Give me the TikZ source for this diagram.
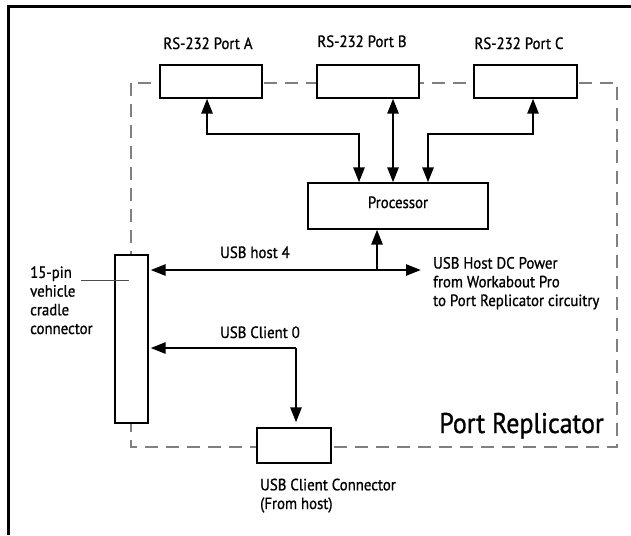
\documentclass[tikz,border=0pt]{standalone}
\usepackage{fontspec}
\setmainfont{PT Sans}[FakeStretch=0.91,FakeBold=1]
\setsansfont{PT Sans}[FakeStretch=0.91,FakeBold=1]
\usetikzlibrary{arrows.meta}
\begin{document}
\begin{tikzpicture}[x=1pt,y=-1pt,
  box/.style={draw=black,line width=1.2pt,fill=white,inner sep=0pt},
  lbl/.style={inner sep=0pt,text=black,anchor=base,font=\fontsize{16.3}{18.7}\selectfont},
  mlbl/.style={lbl,anchor=base west,align=left},
  link/.style={line width=2.6pt,black},
  tip/.style={-{Triangle[length=15pt,width=11pt]}},
  dtip/.style={{Triangle[length=15pt,width=11pt]}-{Triangle[length=15pt,width=11pt]}},
  enclosure/.style={draw=black!50,line width=2pt,dash pattern=on 13pt off 8pt}]
\useasboundingbox (0,0) rectangle (631,535);
% frame
\draw[line width=3pt] (8,535) -- (8,7) -- (631,7);
% port replicator enclosure
\draw[enclosure] (131,83) rectangle (617,447);
% boxes
\node[box,minimum width=102pt,minimum height=33pt] (pa) at (211,81.5) {};
\node[box,minimum width=102pt,minimum height=33pt] (pb) at (368,81.5) {};
\node[box,minimum width=103pt,minimum height=33pt] (pc) at (525.5,81.5) {};
\node[box,minimum width=180pt,minimum height=46pt] (proc) at (398,206) {};
\node[box,minimum width=33pt,minimum height=168pt] (cradle) at (131.5,339) {};
\node[box,minimum width=74pt,minimum height=35pt] (client) at (294,445.5) {};
% labels (multi-line nodes are placed by the baseline of their last line)
\node[lbl] (la) at (208,49) {RS-232 Port A};
\node[lbl] (lb) at (362,47) {RS-232 Port B};
\node[lbl] (lc) at (519,49) {RS-232 Port C};
\node[lbl] (lp) at (398,208) {Processor};
\node[lbl] (lh4) at (255,258) {USB host 4};
\node[lbl] (lc0) at (260,338) {USB Client 0};
\node[mlbl] (ldc) at (433,306) {USB Host DC Power\\from Workabout Pro\\to Port Replicator circuitry};
\node[mlbl] (lpin) at (30,334) {15-pin\\vehicle\\cradle\\connector};
\node[mlbl] (lcc) at (260,509) {USB Client Connector\\(From host)};
\node[inner sep=0pt,anchor=base east,font=\fontsize{28.5}{30}\selectfont] (lpr) at (604,433) {Port Replicator};
% leader to cradle connector
\coordinate (lead) at (81,280);
\draw[black!70,line width=1pt] (lead) -- (lead -| 129,0);
% RS-232 links
\draw[link,dtip] ([xshift=-4pt]pa.south) |- (359,134) -- ([xshift=-39pt]proc.north);
\draw[link,dtip] ([xshift=25pt]pb.south) -- ([xshift=-5pt]proc.north);
\draw[link,dtip] ([xshift=7.5pt]pc.south) |- (428,134) -- ([xshift=30pt]proc.north);
% USB host 4
\coordinate (dc) at (421,270);
\coordinate (j) at (377,270);
\draw[link,dtip] ([xshift=2pt]cradle.east |- dc) -- (dc);
\draw[link,tip] (j) -- (j |- proc.south);
% USB client 0
\coordinate (c0) at (296,348);
\draw[link,tip] (c0) -- ([xshift=2pt]cradle.east |- c0);
\draw[link,tip,shorten >=5pt] (c0) -- (c0 |- client.north);
\end{tikzpicture}
\end{document}
